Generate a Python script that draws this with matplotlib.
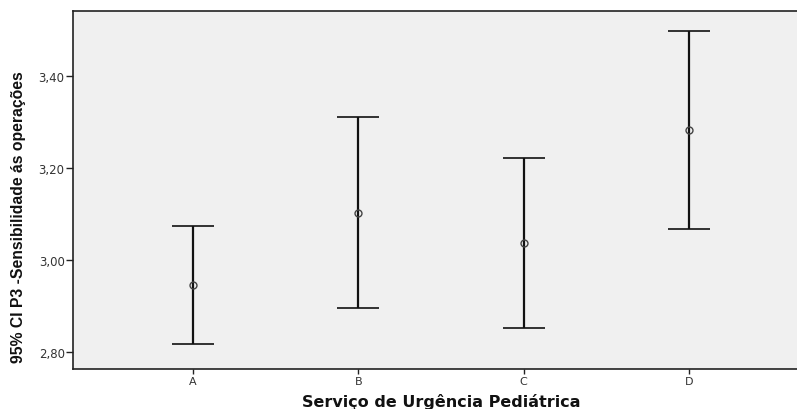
import numpy as np
import matplotlib
matplotlib.use('Agg')
import matplotlib.pyplot as plt

plt.rcParams['axes.unicode_minus'] = False

# médias e intervalos de confiança 95% por serviço
servicos = ["A", "B", "C", "D"]
media = [2.945, 3.102, 3.037, 3.281]
ic_inf = [2.817, 2.896, 2.853, 3.067]
ic_sup = [3.073, 3.310, 3.221, 3.497]
yticks = [2.80, 3.00, 3.20, 3.40]

media = np.array(media)
erro = [media - np.array(ic_inf), np.array(ic_sup) - media]
x = np.arange(len(servicos))

fig = plt.figure(figsize=(7.97, 4.10), dpi=100)
fig.patch.set_facecolor("white")
ax = fig.add_axes([73 / 797, 39.7 / 410, 736 / 797, 358.3 / 410])
ax.set_facecolor("#f0f0f0")

ax.errorbar(x, media, yerr=erro, fmt="none", ecolor="#111111",
            elinewidth=1.6, capsize=15, capthick=1.2)
ax.plot(x, media, "o", ms=5, mfc="none", mec="#444444", mew=1.0)

ax.set_xlim(-0.725, 3.725)
ax.set_ylim(2.763, 3.540)
ax.set_xticks(x)
ax.set_xticklabels(servicos)
ax.set_yticks(yticks)
ax.set_yticklabels([("%.2f" % v).replace(".", ",") for v in yticks])

ax.tick_params(axis="y", direction="out", length=5, width=1.0,
               colors="#222222", labelsize=8.5, labelcolor="#333333", pad=1)
ax.tick_params(axis="x", direction="out", length=3.6, width=1.0,
               colors="#222222", labelsize=8, labelcolor="#333333", pad=1.5)
for s in ["left", "bottom", "top"]:
    ax.spines[s].set_linewidth(1.2)
    ax.spines[s].set_color("#222222")
ax.spines["right"].set_visible(False)

ax.set_xlabel("Serviço de Urgência Pediátrica", fontsize=11.5, fontweight="bold",
              color="#111111", va="baseline")
ax.xaxis.set_label_coords((441 - 73) / 736, -(407 - 370.3) / 358.3)
fig.text(19 / 797, 1 - 217 / 410, "95% CI P3 -Sensibilidade ás operações",
         rotation=90, ha="center", va="center", fontsize=11.3, fontweight="bold",
         family=["Liberation Sans", "DejaVu Sans"], color="#111111")

fig.savefig("out.png", dpi=100)
